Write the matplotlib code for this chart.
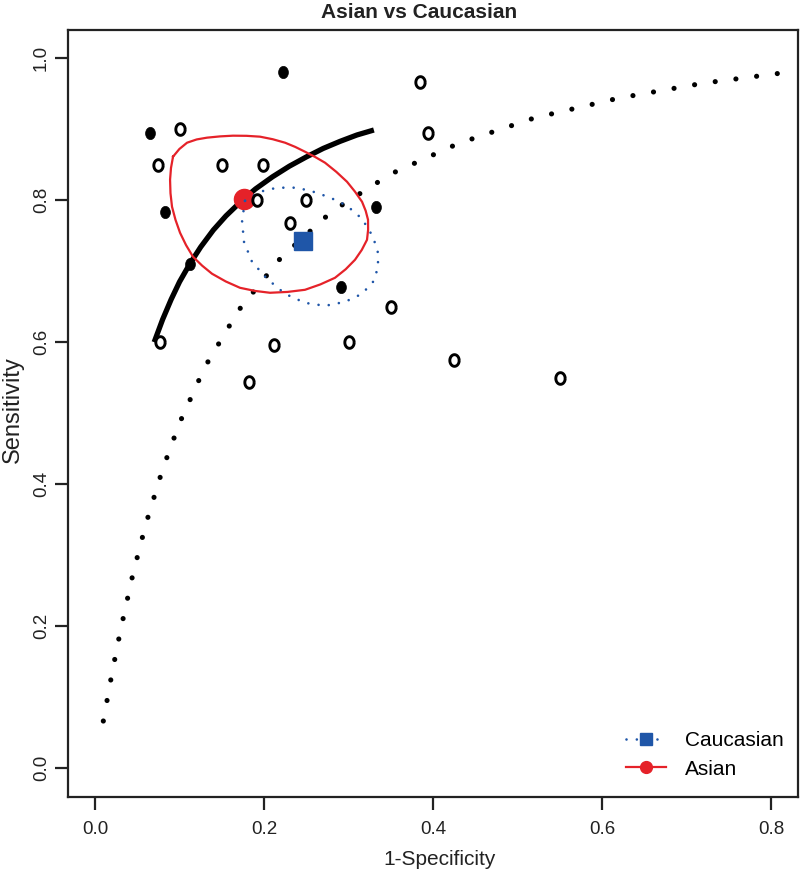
import numpy as np
import matplotlib
matplotlib.use('Agg')
import matplotlib.pyplot as plt
from matplotlib.lines import Line2D

plt.rcParams['font.family'] = ['Liberation Sans', 'DejaVu Sans']

# study estimates (1-specificity, sensitivity)
cauc_fpr = [0.100, 0.075, 0.150, 0.199, 0.192, 0.250, 0.231, 0.350,
            0.077, 0.212, 0.182, 0.300, 0.425, 0.550, 0.385, 0.394]
cauc_sens = [0.900, 0.850, 0.850, 0.850, 0.800, 0.800, 0.768, 0.650,
             0.600, 0.596, 0.544, 0.600, 0.575, 0.550, 0.966, 0.895]
asian_fpr = [0.065, 0.222, 0.083, 0.112, 0.333, 0.291]
asian_sens = [0.895, 0.981, 0.784, 0.710, 0.791, 0.678]

# summary estimates
asian_sum_fpr, asian_sum_sens = 0.176, 0.802
cauc_sum_fpr, cauc_sum_sens = 0.246, 0.743

# SROC curves
asian_sroc_fpr = [0.070, 0.080, 0.090, 0.100, 0.112, 0.125, 0.140, 0.155, 0.176,
                  0.190, 0.210, 0.230, 0.250, 0.270, 0.290, 0.310, 0.330]
asian_sroc_sens = [0.600, 0.632, 0.660, 0.685, 0.710, 0.734, 0.758, 0.778, 0.802,
                   0.816, 0.833, 0.848, 0.861, 0.873, 0.883, 0.892, 0.899]
cauc_sroc_fpr = [0.0098, 0.020, 0.030, 0.045, 0.060, 0.080, 0.100, 0.130, 0.170,
                 0.220, 0.280, 0.350, 0.430, 0.520, 0.620, 0.720, 0.830]
cauc_sroc_sens = [0.066, 0.133, 0.193, 0.274, 0.343, 0.421, 0.486, 0.565, 0.645,
                  0.719, 0.784, 0.837, 0.880, 0.916, 0.944, 0.965, 0.982]

# confidence regions
asian_ell_fpr = [0.0923, 0.0998, 0.1089, 0.1203, 0.1325, 0.1479, 0.1633, 0.1793,
                 0.1953, 0.2103, 0.2249, 0.2369, 0.2485, 0.2605, 0.2722, 0.2856,
                 0.2982, 0.3076, 0.3160, 0.3203, 0.3231, 0.3232, 0.3219, 0.3157,
                 0.3077, 0.2967, 0.2840, 0.2667, 0.2485, 0.2278, 0.2071, 0.1893,
                 0.1716, 0.1548, 0.1385, 0.1268, 0.1160, 0.1077, 0.1006, 0.0952,
                 0.0911, 0.0893, 0.0888, 0.0899, 0.0923]
asian_ell_sens = [0.8614, 0.8722, 0.8811, 0.8857, 0.8882, 0.8900, 0.8910, 0.8908,
                  0.8896, 0.8860, 0.8811, 0.8752, 0.8684, 0.8610, 0.8529, 0.8400,
                  0.8261, 0.8122, 0.7979, 0.7852, 0.7725, 0.7584, 0.7443, 0.7300,
                  0.7161, 0.7028, 0.6907, 0.6814, 0.6738, 0.6708, 0.6696, 0.6722,
                  0.6766, 0.6855, 0.6964, 0.7078, 0.7203, 0.7368, 0.7542, 0.7725,
                  0.7909, 0.8100, 0.8290, 0.8455, 0.8614]
cauc_ell_fpr = [0.1775, 0.1953, 0.2154, 0.2391, 0.2627, 0.2840, 0.2982, 0.3160,
                0.3290, 0.3349, 0.3349, 0.3290, 0.3160, 0.2959, 0.2722, 0.2485,
                0.2249, 0.2036, 0.1858, 0.1763, 0.1740, 0.1775]
cauc_ell_sens = [0.7993, 0.8120, 0.8177, 0.8177, 0.8106, 0.8007, 0.7922, 0.7739,
                 0.7485, 0.7259, 0.7048, 0.6850, 0.6681, 0.6568, 0.6512, 0.6554,
                 0.6681, 0.6893, 0.7132, 0.7414, 0.7710, 0.7993]

red = '#e52229'
blue = '#1f56a8'

t = np.linspace(0, 2 * np.pi, 41)
oval = np.column_stack([0.8 * np.cos(t), np.sin(t)])

fig = plt.figure(figsize=(8, 8.71), dpi=100)
ax = fig.add_axes([0.085, 0.085, 0.9125, 0.8806])

ax.plot(cauc_sroc_fpr, cauc_sroc_sens, color='black', lw=3.7,
        linestyle=(0, (0.01, 4.05)), dash_capstyle='round', zorder=2)
ax.plot(asian_sroc_fpr, asian_sroc_sens, color='black', lw=3.8,
        solid_capstyle='butt', solid_joinstyle='round', zorder=2)

ax.plot(asian_ell_fpr, asian_ell_sens, color=red, lw=1.6, zorder=3)
ax.plot(asian_sum_fpr, asian_sum_sens, marker='o', ms=14.5, color=red,
        mec=red, ls='none', zorder=4)

ax.plot(cauc_ell_fpr, cauc_ell_sens, color=blue, lw=1.9,
        linestyle=(0, (0.01, 3.9)), dash_capstyle='round', zorder=5)
ax.plot(cauc_sum_fpr, cauc_sum_sens, marker='s', ms=13, color=blue,
        mec=blue, ls='none', zorder=5)

ax.plot(cauc_fpr, cauc_sens, marker=oval, ms=8.4, mfc='white', mec='black',
        mew=2.1, ls='none', zorder=6)
ax.plot(asian_fpr, asian_sens, marker=oval, ms=8.8, mfc='black', mec='black',
        mew=0.5, ls='none', zorder=6)

ax.set_xlim(-0.032, 0.832)
ax.set_ylim(-0.041, 1.040)
ax.set_xticks([0.0, 0.2, 0.4, 0.6, 0.8])
ax.set_yticks([0.0, 0.2, 0.4, 0.6, 0.8, 1.0])
ax.set_xticklabels(['0.0', '0.2', '0.4', '0.6', '0.8'])
ax.set_yticklabels(['0.0', '0.2', '0.4', '0.6', '0.8', '1.0'], rotation=90, va='center')
ax.tick_params(axis='both', direction='out', length=9.5, width=1.6,
               labelsize=13.5, colors='#222222')
ax.tick_params(axis='x', pad=7.5)
ax.tick_params(axis='y', pad=3.5)
for s in ax.spines.values():
    s.set_linewidth(1.6)
    s.set_color('#222222')

fig.text(0.524, 1 - 18 / 871, 'Asian vs Caucasian', ha='center', va='baseline',
         fontsize=15, fontweight='bold', color='#222222')
fig.text(440 / 800, 1 - 865 / 871, '1-Specificity', ha='center', va='baseline',
         fontsize=15, color='#222222')
fig.text(13 / 800, 1 - 410 / 871, 'Sensitivity', ha='center', va='center',
         rotation=90, fontsize=17, color='#222222')

handles = [
    Line2D([], [], color=blue, lw=1.9, linestyle=(0, (0.01, 3.9)),
           dash_capstyle='round', marker='s', ms=8, mec=blue),
    Line2D([], [], color=red, lw=1.6, marker='o', ms=8.5, mec=red),
]
ax.legend(handles, ['Caucasian', 'Asian'], loc='lower right', frameon=False,
          fontsize=15, handlelength=1.9, handletextpad=0.9, labelspacing=0.45,
          borderaxespad=0.3, bbox_to_anchor=(1.0, 0.005))

fig.savefig('out.png', dpi=100)
